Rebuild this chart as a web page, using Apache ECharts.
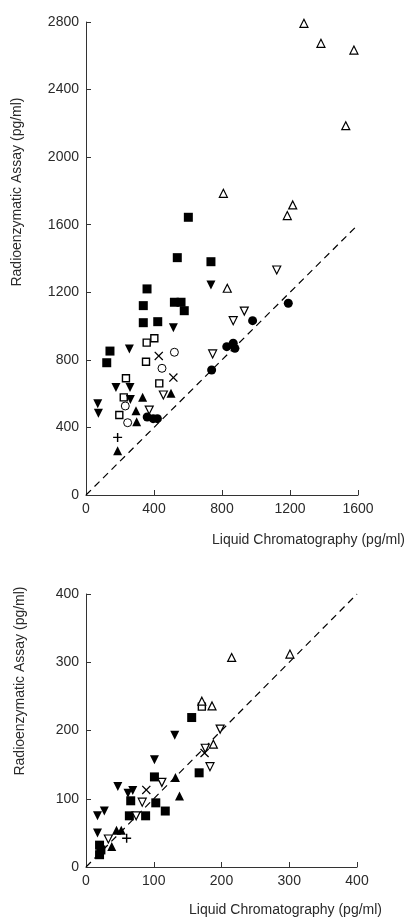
<!DOCTYPE html>
<html><head><meta charset="utf-8">
<script src="https://cdn.jsdelivr.net/npm/echarts@6/dist/echarts.min.js"></script>
<style>html,body{margin:0;padding:0;background:#fff}#c{width:407px;height:924px}</style>
</head><body><div id="c"></div>
<script>
// ---- Top panel data (Liquid Chromatography x, Radioenzymatic y), pg/ml ----
const topFilledSquare = [[359,1220],[337,1121],[337,1020],[422,1026],[520,1141],[559,1141],[578,1091],[141,852],[122,783],[602,1644],[537,1405],[735,1381]];
const topOpenSquare = [[357,902],[402,928],[353,789],[235,691],[431,661],[222,578],[196,474]];
const topFilledCircle = [[360,462],[395,452],[420,452],[739,740],[828,878],[866,898],[876,868],[980,1032],[1190,1135]];
const topOpenCircle = [[520,845],[447,750],[231,527],[245,428]];
const topFilledTriUp = [[500,602],[333,578],[294,499],[298,434],[186,262]];
const topOpenTriUp = [[808,1786],[1216,1717],[1184,1654],[831,1224],[1282,2792],[1382,2674],[1576,2634],[1528,2186]];
const topFilledTriDown = [[735,1243],[514,990],[255,864],[176,637],[259,637],[69,540],[73,484],[261,566]];
const topOpenTriDown = [[455,592],[372,503],[745,835],[866,1032],[931,1089],[1122,1332]];
const topCross = [[428,823],[514,695]];
const topPlus = [[186,341]];
const topIdentity = [[0,0],[1600,1600]];
const topXTicks = [0,400,800,1200,1600];
const topYTicks = [0,400,800,1200,1600,2000,2400,2800];

// ---- Bottom panel data ----
const botFilledSquare = [[101,132],[167,138],[156,219],[66,97],[103,94],[117,82],[64,75],[88,75],[20,32],[20,18],[22,25]];
const botOpenSquare = [[171,235]];
const botFilledTriUp = [[132,131],[138,104],[45,54],[52,54],[38,30]];
const botOpenTriUp = [[215,307],[301,312],[171,243],[186,236],[188,180]];
const botFilledTriDown = [[101,157],[131,193],[47,118],[69,112],[62,108],[27,82],[17,75],[17,50]];
const botOpenTriDown = [[112,124],[183,147],[176,174],[198,202],[83,95],[74,75],[33,41]];
const botCross = [[175,167],[89,113]];
const botPlus = [[60,42]];
const botIdentity = [[0,0],[400,400]];
const botXTicks = [0,100,200,300,400];
const botYTicks = [0,100,200,300,400];

const xTitle = 'Liquid Chromatography (pg/ml)';
const yTitle = 'Radioenzymatic Assay (pg/ml)';

const FONT = 'Liberation Sans';
const INK = '#000';
const TXT = '#2a2a2a';
const CROSS = 'path://M0,1L1,0L5,4L9,0L10,1L6,5L10,9L9,10L5,6L1,10L0,9L4,5Z';
const PLUS = 'path://M4.2,0H5.8V4.2H10V5.8H5.8V10H4.2V5.8H0V4.2H4.2Z';

const styles = {
  filledSquare: {symbol:'rect', symbolSize:9, itemStyle:{color:INK, opacity:1}},
  openSquare: {symbol:'rect', symbolSize:7, itemStyle:{color:'#fff', borderColor:INK, borderWidth:1.4, opacity:1}},
  filledCircle: {symbol:'circle', symbolSize:9, itemStyle:{color:INK, opacity:1}},
  openCircle: {symbol:'circle', symbolSize:8, itemStyle:{color:'#fff', borderColor:INK, borderWidth:1, opacity:1}},
  filledTriUp: {symbol:'triangle', symbolSize:9, itemStyle:{color:INK, opacity:1}},
  openTriUp: {symbol:'triangle', symbolSize:8, itemStyle:{color:'#fff', borderColor:INK, borderWidth:1.2, opacity:1}},
  filledTriDown: {symbol:'triangle', symbolRotate:180, symbolSize:9, itemStyle:{color:INK, opacity:1}},
  openTriDown: {symbol:'triangle', symbolRotate:180, symbolSize:8, itemStyle:{color:'#fff', borderColor:INK, borderWidth:1.2, opacity:1}},
  cross: {symbol:CROSS, symbolSize:9, itemStyle:{color:INK, opacity:1}},
  plus: {symbol:PLUS, symbolSize:9, itemStyle:{color:INK, opacity:1}}
};

function scatter(idx, kind, data){
  return Object.assign({type:'scatter', xAxisIndex:idx, yAxisIndex:idx, data:data, z:3, silent:true}, styles[kind]);
}
function identity(idx, data){
  return {type:'line', xAxisIndex:idx, yAxisIndex:idx, data:data, symbol:'none', silent:true, z:2,
    lineStyle:{color:INK, width:1.2, type:[7,5]}};
}

function axisCommon(min, max, interval, ticks){
  return {
    type:'value', min:min, max:max, interval:interval,
    axisLine:{show:true, lineStyle:{color:'#333', width:1}},
    axisTick:{show:true, inside:true, length:5, lineStyle:{color:'#333'}},
    splitLine:{show:false},
    axisLabel:{color:TXT, fontFamily:FONT, fontSize:14, margin:7,
      formatter: v => ticks.indexOf(v) >= 0 ? String(v) : ''}
  };
}

const chart = echarts.init(document.getElementById('c'), null, {renderer:'canvas'});
chart.setOption({
  backgroundColor:'#fff',
  animation:false,
  grid:[
    {left:86, right:49, top:22, bottom:429},
    {left:86, right:50, top:594, bottom:57}
  ],
  xAxis:[
    Object.assign(axisCommon(0,1600,400,topXTicks), {gridIndex:0}),
    Object.assign(axisCommon(0,400,100,botXTicks), {gridIndex:1})
  ],
  yAxis:[
    Object.assign(axisCommon(0,2800,400,topYTicks), {gridIndex:0}),
    Object.assign(axisCommon(0,400,100,botYTicks), {gridIndex:1})
  ],
  graphic:[
    {type:'text', x:405, y:540, style:{text:xTitle, fontFamily:FONT, fontSize:14, fill:TXT, align:'right', verticalAlign:'middle'}},
    {type:'text', x:382, y:910, style:{text:xTitle, fontFamily:FONT, fontSize:14, fill:TXT, align:'right', verticalAlign:'middle'}},
    {type:'text', x:17, y:192, rotation:Math.PI/2, style:{text:yTitle, fontFamily:FONT, fontSize:14, fill:TXT, align:'center', verticalAlign:'middle'}},
    {type:'text', x:20, y:681, rotation:Math.PI/2, style:{text:yTitle, fontFamily:FONT, fontSize:14, fill:TXT, align:'center', verticalAlign:'middle'}}
  ],
  series:[
    identity(0, topIdentity),
    scatter(0,'filledSquare',topFilledSquare),
    scatter(0,'openSquare',topOpenSquare),
    scatter(0,'filledCircle',topFilledCircle),
    scatter(0,'openCircle',topOpenCircle),
    scatter(0,'filledTriUp',topFilledTriUp),
    scatter(0,'openTriUp',topOpenTriUp),
    scatter(0,'filledTriDown',topFilledTriDown),
    scatter(0,'openTriDown',topOpenTriDown),
    scatter(0,'cross',topCross),
    scatter(0,'plus',topPlus),
    identity(1, botIdentity),
    scatter(1,'filledSquare',botFilledSquare),
    scatter(1,'openSquare',botOpenSquare),
    scatter(1,'filledTriUp',botFilledTriUp),
    scatter(1,'openTriUp',botOpenTriUp),
    scatter(1,'filledTriDown',botFilledTriDown),
    scatter(1,'openTriDown',botOpenTriDown),
    scatter(1,'cross',botCross),
    scatter(1,'plus',botPlus)
  ]
});
</script>
</body></html>
